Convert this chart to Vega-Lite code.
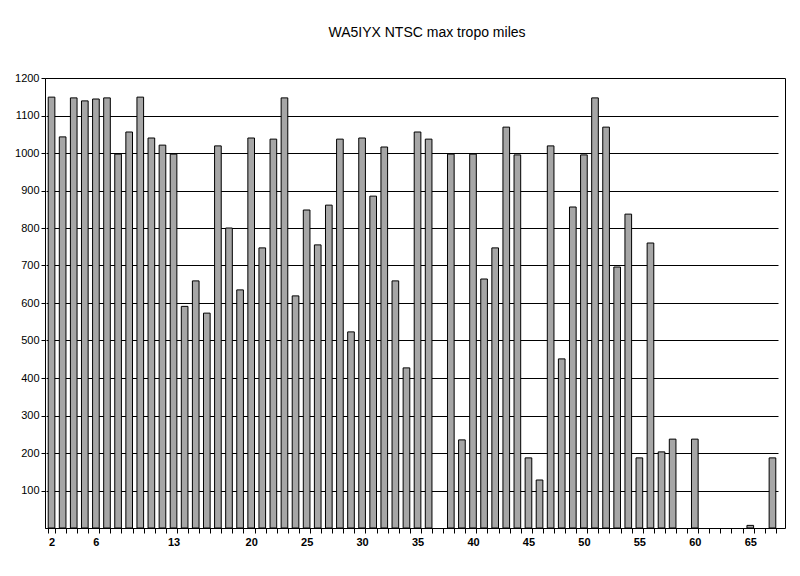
{
  "$schema": "https://vega.github.io/schema/vega-lite/v6.json",
  "width": 740,
  "height": 450,
  "autosize": "none",
  "padding": {"left": 45, "top": 78, "right": 15, "bottom": 48},
  "background": "white",
  "title": {
    "text": "WA5IYX NTSC max tropo miles",
    "font": "Liberation Sans",
    "fontSize": 14,
    "fontWeight": "normal",
    "color": "black",
    "anchor": "middle",
    "offset": 32,
    "dx": 12
  },
  "config": {
    "view": {"stroke": "black", "strokeWidth": 1},
    "axis": {"domainColor": "black", "tickColor": "black", "labelColor": "black", "labelFont": "Liberation Sans"}
  },
  "data": {
    "values": [
      {"ch": 2, "miles": 1149}, {"ch": 3, "miles": 1043}, {"ch": 4, "miles": 1147}, {"ch": 5, "miles": 1139},
      {"ch": 6, "miles": 1144}, {"ch": 7, "miles": 1147}, {"ch": 8, "miles": 997}, {"ch": 9, "miles": 1056},
      {"ch": 10, "miles": 1149}, {"ch": 11, "miles": 1040}, {"ch": 12, "miles": 1021}, {"ch": 13, "miles": 997},
      {"ch": 14, "miles": 591}, {"ch": 15, "miles": 659}, {"ch": 16, "miles": 573}, {"ch": 17, "miles": 1019},
      {"ch": 18, "miles": 800}, {"ch": 19, "miles": 635}, {"ch": 20, "miles": 1040}, {"ch": 21, "miles": 747},
      {"ch": 22, "miles": 1037}, {"ch": 23, "miles": 1147}, {"ch": 24, "miles": 619}, {"ch": 25, "miles": 848},
      {"ch": 26, "miles": 755}, {"ch": 27, "miles": 861}, {"ch": 28, "miles": 1037}, {"ch": 29, "miles": 523},
      {"ch": 30, "miles": 1040}, {"ch": 31, "miles": 885}, {"ch": 32, "miles": 1016}, {"ch": 33, "miles": 659},
      {"ch": 34, "miles": 427}, {"ch": 35, "miles": 1056}, {"ch": 36, "miles": 1037}, {"ch": 38, "miles": 997},
      {"ch": 39, "miles": 235}, {"ch": 40, "miles": 997}, {"ch": 41, "miles": 664}, {"ch": 42, "miles": 747},
      {"ch": 43, "miles": 1069}, {"ch": 44, "miles": 995}, {"ch": 45, "miles": 187}, {"ch": 46, "miles": 128},
      {"ch": 47, "miles": 1019}, {"ch": 48, "miles": 451}, {"ch": 49, "miles": 856}, {"ch": 50, "miles": 995},
      {"ch": 51, "miles": 1147}, {"ch": 52, "miles": 1069}, {"ch": 53, "miles": 696}, {"ch": 54, "miles": 837},
      {"ch": 55, "miles": 187}, {"ch": 56, "miles": 760}, {"ch": 57, "miles": 203}, {"ch": 58, "miles": 237},
      {"ch": 60, "miles": 237}, {"ch": 65, "miles": 7}, {"ch": 67, "miles": 187}
    ]
  },
  "mark": {"type": "bar", "fill": "#a6a6a6", "stroke": "black", "strokeWidth": 1},
  "encoding": {
    "x": {
      "field": "ch",
      "type": "ordinal",
      "scale": {
        "domain": [2,3,4,5,6,7,8,9,10,11,12,13,14,15,16,17,18,19,20,21,22,23,24,25,26,27,28,29,30,31,32,33,34,35,36,37,38,39,40,41,42,43,44,45,46,47,48,49,50,51,52,53,54,55,56,57,58,59,60,61,62,63,64,65,66,67],
        "range": [1, 733],
        "paddingInner": 0.4,
        "paddingOuter": 0.2
      },
      "axis": {
        "title": null,
        "labelAngle": 0,
        "labelFontWeight": "bold",
        "labelFontSize": 11,
        "labelPadding": 3,
        "tickBand": "extent",
        "tickSize": 5,
        "grid": false,
        "labelOverlap": false,
        "labelExpr": "indexof([2,6,13,20,25,30,35,40,45,50,55,60,65], datum.value) >= 0 ? datum.label : ''"
      }
    },
    "y": {
      "field": "miles",
      "type": "quantitative",
      "scale": {"domain": [0, 1200], "nice": false},
      "axis": {
        "title": null,
        "format": "d",
        "values": [100,200,300,400,500,600,700,800,900,1000,1100,1200],
        "grid": true,
        "gridColor": "black",
        "gridOpacity": 1,
        "gridWidth": 1,
        "labelFontSize": 11,
        "tickSize": 4,
        "labelPadding": 2
      }
    }
  }
}
